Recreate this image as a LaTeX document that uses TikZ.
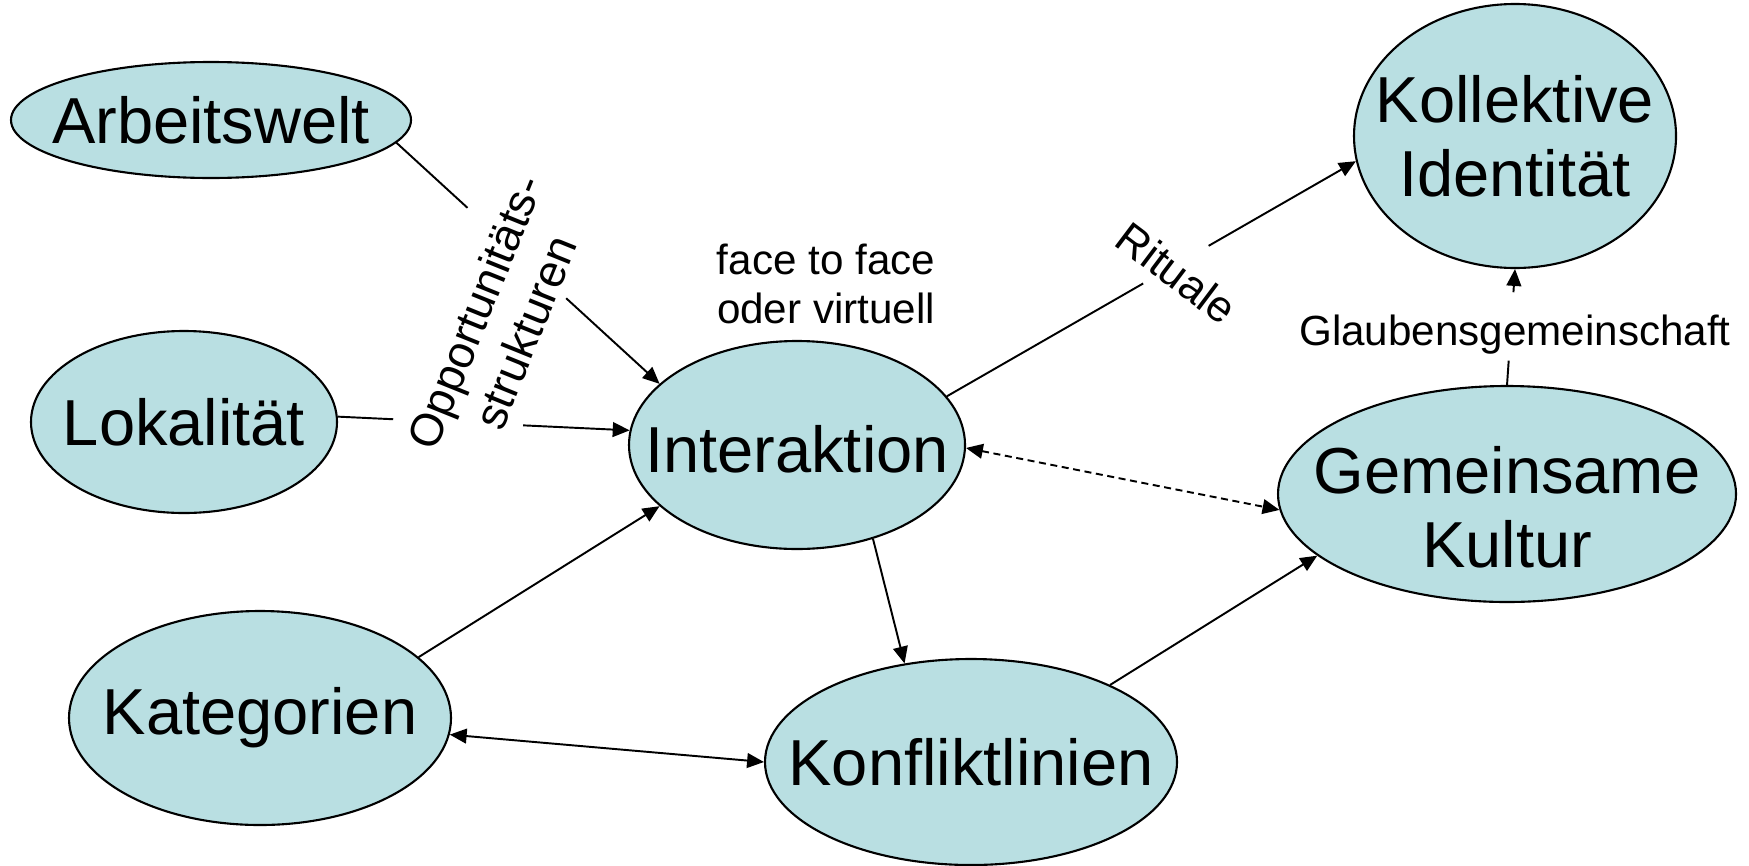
\documentclass[tikz,border=0pt]{standalone}
\usepackage{fontspec}
\setmainfont{Liberation Sans}
\usetikzlibrary{shapes.geometric,arrows.meta}
\definecolor{blobfill}{RGB}{185,223,226}
\tikzset{blob/.style={ellipse,draw,fill=blobfill,inner sep=0pt,line width=0.6pt},
  big/.style={font=\fontsize{18.5}{21}\selectfont,align=center},
  small/.style={font=\fontsize{12}{14}\selectfont,align=center},
  arr/.style={-{Triangle[length=4.8pt,width=4.2pt]}},
  both/.style={{Triangle[length=4.8pt,width=4.2pt]}-{Triangle[length=4.8pt,width=4.2pt]}}}

\begin{document}
\begin{tikzpicture}[x=0.1mm,y=-0.1mm,line width=0.55pt]
 \useasboundingbox (0,0) rectangle (1749,865);
 % ellipses
 \node[blob,minimum width=40mm,minimum height=11.6mm,label={[big]center:Arbeitswelt}] (arb) at (211,120) {};
 \node[blob,minimum width=30.6mm,minimum height=18.2mm,label={[big]center:Lokalität}] (lok) at (184,422) {};
 \node[blob,minimum width=38.2mm,minimum height=21.4mm,label={[big]center:Kategorien}] (kat) at (260,718) {};
 \node[blob,minimum width=33.6mm,minimum height=20.8mm,label={[big,yshift=-0.4mm]center:Interaktion}] (int) at (797,445) {};
 \node[blob,minimum width=41.2mm,minimum height=20.6mm,label={[big]center:Konfliktlinien}] (konf) at (971,762) {};
 \node[blob,minimum width=45.8mm,minimum height=21.6mm,label={[big,yshift=-1.3mm]center:Gemeinsame\\Kultur}] (gem) at (1507,494) {};
 \node[blob,minimum width=32.2mm,minimum height=26.4mm,label={[big]center:Kollektive\\Identität}] (kol) at (1515,136) {};
 % labels
 \node[small] (ff) at (826,284) {face to face\\oder virtuell};
 \node[small,rotate=68,font=\fontsize{13}{15.5}\selectfont] (opp) at (500,322) {Opportunitäts-\\strukturen};
 \node[small,rotate=-37,font=\fontsize{12.5}{14}\selectfont] (rit) at (1177,273) {Rituale};
 \node[small] (glb) at (1515,335) {Glaubensgemeinschaft};
 % broken connectors
 \path (arb.-7) -- coordinate[pos=0.27] (o1) coordinate[pos=0.645] (o2) (int.156);
 \draw (arb.-7) -- (o1);
 \draw[arr] (o2) -- (int.156);
 \path (lok.2) -- coordinate[pos=0.19] (l1) coordinate[pos=0.635] (l2) (int.175);
 \draw (lok.2) -- (l1);
 \draw[arr] (l2) -- (int.175);
 \path (int.18) -- coordinate[pos=0.48] (r1) coordinate[pos=0.64] (r2) (kol.189);
 \draw (int.18) -- (r1);
 \draw[arr] (r2) -- (kol.189);
 \path (gem.north) -- coordinate[pos=0.21] (g1) coordinate[pos=0.8] (g2) (kol.south);
 \draw (gem.north) -- (g1);
 \draw[arr] (g2) -- (kol.south);
 % other connectors
 \draw[arr] (kat.21) -- (int.204);
 \draw[arr] (int.-51) -- (konf.124);
 \draw[arr] (konf.29) -- (gem.198);
 \draw[both] (kat.-5) -- (konf.180);
 \draw[both,dash pattern=on 2pt off 1.3pt] (int.-1) -- (gem.184);
\end{tikzpicture}
\end{document}
